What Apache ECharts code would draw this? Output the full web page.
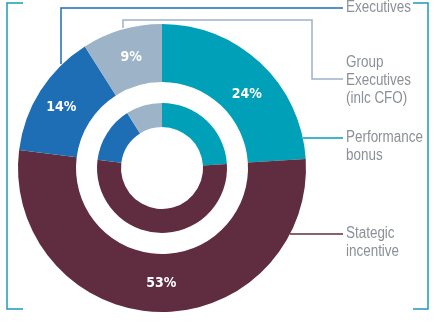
<!DOCTYPE html>
<html>
<head>
<meta charset="utf-8">
<script src="https://cdn.jsdelivr.net/npm/echarts@6/dist/echarts.min.js"></script>
<style>
  html, body { margin: 0; padding: 0; background: #fff; }
  #main { width: 435px; height: 328px; }
</style>
</head>
<body>
<div id="main"></div>
<script>
// segment names, clockwise from 12 o'clock
var categories = ['Performance bonus', 'Stategic incentive', 'Executives', 'Group Executives']
var outerValues = [24, 53, 14, 9]
var innerValues = [24, 53, 14, 9]
var colors = ['#00a0b9', '#602c40', '#1e6eb6', '#9db3c7']

// legend text shown at the right (line breaks as in the picture)
var legendTexts = {
  'Executives': 'Executives',
  'Group Executives': 'Group\nExecutives\n(inlc CFO)',
  'Performance bonus': 'Performance\nbonus',
  'Stategic incentive': 'Stategic\nincentive'
}

// small nudges of the % labels to sit where the original has them
var labelOffsets = [[4, 12], [3, -3], [-1, 3], [2, 3]]

var chart = echarts.init(document.getElementById('main'))

function makeData(values, withOffsets) {
  return categories.map(function (c, i) {
    var d = { name: c, value: values[i], itemStyle: { color: colors[i] } }
    if (withOffsets) d.label = { offset: labelOffsets[i] }
    return d
  })
}

var textColor = '#8b9097'

// leader lines drawn as decoration
function line(points, color) {
  return {
    type: 'polyline',
    shape: { points: points },
    style: { stroke: color, lineWidth: 1.5, fill: null },
    silent: true
  }
}
function legendText(name, y) {
  return {
    type: 'text',
    x: 346,
    y: y,
    scaleX: 0.84,
    style: {
      text: legendTexts[name],
      fill: textColor,
      font: "16px 'Liberation Sans', Arial, sans-serif",
      lineHeight: 18,
      verticalAlign: 'middle',
      align: 'left'
    },
    silent: true
  }
}

chart.setOption({
  animation: false,
  series: [
    {
      type: 'pie',
      center: [162, 168],
      radius: [86, 144],
      startAngle: 90,
      clockwise: true,
      silent: true,
      label: {
        show: true,
        position: 'inside',
        formatter: '{c}%',
        color: '#fff',
        fontSize: 14,
        fontWeight: 'bold',
        fontFamily: "'DejaVu Sans Condensed', 'Liberation Sans Narrow', sans-serif"
      },
      labelLine: { show: false },
      itemStyle: { borderWidth: 0 },
      data: makeData(outerValues, true)
    },
    {
      type: 'pie',
      center: [162, 168],
      radius: [41, 65],
      startAngle: 90,
      clockwise: true,
      silent: true,
      label: { show: false },
      labelLine: { show: false },
      itemStyle: { borderWidth: 0 },
      data: makeData(innerValues, false)
    }
  ],
  graphic: [
    // brackets
    line([[23, 3], [7, 3], [7, 309], [23, 309]], '#1a9cb8'),
    line([[413, 3], [428, 3], [428, 309], [413, 309]], '#1a9cb8'),
    // leader lines
    line([[61, 64], [61, 8], [343, 8]], colors[2]),
    line([[123, 28], [123, 20], [312, 20], [312, 79], [343, 79]], colors[3]),
    line([[303, 138], [343, 138]], colors[0]),
    line([[290, 234], [343, 234]], colors[1]),
    legendText('Executives', 8),
    legendText('Group Executives', 81),
    legendText('Performance bonus', 147),
    legendText('Stategic incentive', 243)
  ]
})
</script>
</body>
</html>
